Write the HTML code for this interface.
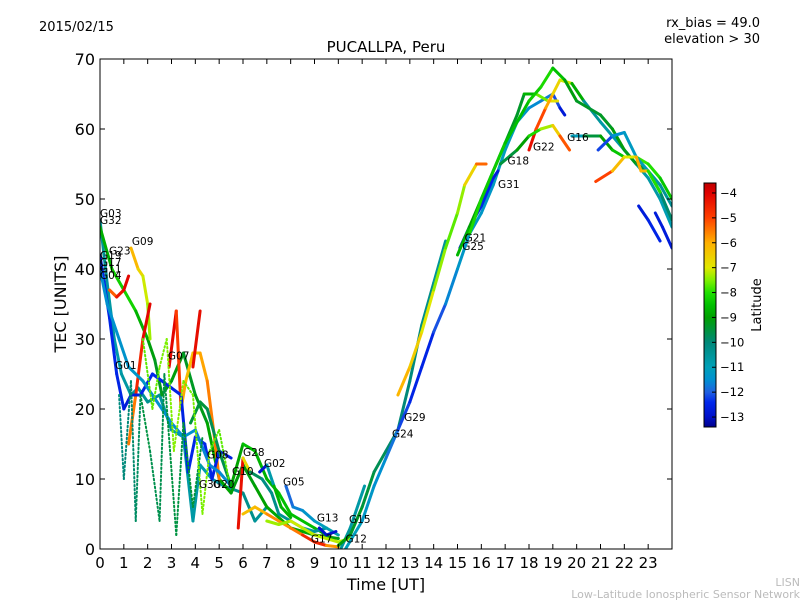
<!DOCTYPE html>
<html><head><meta charset="utf-8"><style>
body{margin:0;background:#fff;}
svg text{font-family:"DejaVu Sans","Liberation Sans",sans-serif;}
</style></head><body>
<svg id="chart" width="800" height="600" viewBox="0 0 800 600" xmlns="http://www.w3.org/2000/svg">
<defs>
<linearGradient id="jet" x1="0" y1="1" x2="0" y2="0"></linearGradient>
<clipPath id="plotclip"><rect x="100" y="59" width="572" height="490"/></clipPath>
</defs>
<text x="39" y="31" font-size="13">2015/02/15</text>
<text x="760" y="27" font-size="13" text-anchor="end">rx_bias = 49.0</text>
<text x="760" y="43" font-size="13" text-anchor="end">elevation &gt; 30</text>
<text x="386" y="52" font-size="15" text-anchor="middle">PUCALLPA, Peru</text>
<g id="marks" clip-path="url(#plotclip)"></g>
<g id="labels"></g>
<rect x="100" y="59" width="572" height="490" fill="none" stroke="#000" stroke-width="1"/>
<g id="axes"></g>
<text x="386" y="590" font-size="16" text-anchor="middle">Time [UT]</text>
<text transform="translate(66,304) rotate(-90)" font-size="16" text-anchor="middle">TEC [UNITS]</text>
<rect x="704" y="183" width="12" height="244" fill="url(#jet)" stroke="#000" stroke-width="1"/>
<g id="cbticks"></g>
<text transform="translate(761,305) rotate(-90)" font-size="13" text-anchor="middle">Latitude</text>
<text x="800" y="586" font-size="11" fill="#bbb" text-anchor="end">LISN</text>
<text x="800" y="598" font-size="11" fill="#bbb" text-anchor="end">Low-Latitude Ionospheric Sensor Network</text>
</svg>
<script>
const xTicks=[0,1,2,3,4,5,6,7,8,9,10,11,12,13,14,15,16,17,18,19,20,21,22,23];
const yTicks=[0,10,20,30,40,50,60,70];
const cbTicks=[-4,-5,-6,-7,-8,-9,-10,-11,-12,-13];
// tracks: points [hour, tec, latitude]
const trackA=[[0,47,-10.5],[0.3,38,-10.5],[0.6,30,-10.8],[0.9,25,-10.8],[1.3,22,-10.5],[1.6,23,-10.5],[2,21,-10.4],[2.5,22,-10.4],[3,17,-10.6],[3.5,16,-10.8],[3.9,4,-10.6],[4.2,12,-10.8],[4.7,10,-10.9],[5.2,9,-10.5],[6,8,-10.2],[6.5,4,-10.4],[7,6,-10.6]];
const trackB=[[0,46,-9],[0.5,40,-8.5],[1,37,-8],[1.5,34,-8.4],[2,30,-9],[2.3,27,-9.2],[2.6,22,-9.3],[3,24,-9],[3.5,28,-9.2],[4,22,-9.4],[4.5,18,-9],[5,10,-8.8],[5.5,8,-9],[6,12,-9.2],[6.5,9,-9],[7,6,-9],[8,3,-8.8],[9,2,-9],[10,1.5,-9.2]];
const trackC=[[0.4,37,-6],[0.7,36,-4.5],[1,37,-4.2],[1.2,39,-4]];
const trackG09=[[1.3,43,-6],[1.6,40,-6.3],[1.8,39,-7],[2,35,-7.2],[2.1,30,-7.5]];
const trackRed1=[[1.2,15,-6],[1.5,22,-5],[1.8,30,-4.2],[2.1,35,-4]];
const trackG07=[[2.9,26,-4.2],[3.2,34,-4],[3.4,20,-5.8],[3.6,24,-6],[3.9,28,-6.4],[4.2,28,-6.2],[4.5,24,-5.6],[4.8,16,-5.5],[5,10,-5.5]];
const trackRed2=[[3.9,26,-4.4],[4.2,34,-4]];
const trackBlue1=[[0,42,-12.5],[0.4,33,-12.5],[0.7,25,-12.4],[1,20,-12.6],[1.3,22,-12.8],[1.7,22,-12.5],[2.2,25,-12.4],[2.6,24,-12.4],[3,23,-12.5],[3.4,22,-12.6],[3.7,11,-12.5],[4,16,-12.4],[4.4,15,-12.3],[4.7,10,-12.6],[5,14,-12.4],[5.5,13,-12.8]];
const trackLB=[[0,40,-11.5],[0.3,35,-11.5],[0.8,30,-11.4],[1.2,26,-11.4],[1.8,24,-11.2],[2.2,22,-11.4],[3,18,-11.6],[3.5,16,-11.4],[4,17,-11.5],[4.6,12,-11.7],[5,11,-11.5],[5.5,9,-11.6]];
const trackDot1=[[0.8,22,-10],[1,10,-10.2],[1.3,24,-9.8],[1.5,4,-10],[1.7,22,-9.6],[2.1,14,-9.5],[2.5,4,-9.8],[2.7,25,-9.5],[3.2,2,-9.6],[3.5,18,-9.5],[3.9,6,-9.4],[4.3,16,-9.6]];
const trackDot2=[[1.8,30,-7.6],[2.2,20,-7.8],[2.5,26,-7.5],[2.8,30,-7.6],[3.1,14,-7.4],[3.5,24,-7.5],[3.9,22,-7.7],[4.3,5,-7.4],[4.6,14,-7.6],[5,17,-7.8],[5.4,10,-7.6]];
const trackG08=[[3.8,18,-9.6],[4.2,21,-9.4],[4.5,20,-9.6],[5,14,-9.8],[5.5,9,-9.5],[6,15,-8.4],[6.5,14,-8.6],[7,10,-8.8],[7.5,8,-8.6],[8,5,-8.4],[9,3,-8.6],[9.5,2,-8.8]];
const trackG28=[[5.8,3,-4.5],[6,13,-4],[6.3,11,-9.5],[6.8,10,-10],[7.2,8,-10.4],[7.5,5,-10.2],[8,4,-10.6],[8.5,3,-10.8],[9,2.5,-10.6],[9.5,3,-10.4]];
const trackG02=[[6.7,11,-13],[7,12,-12.8],[7.3,9,-8.8],[7.6,6,-8.6],[8,4.5,-8.8]];
const trackG05=[[7.8,9,-12],[8.1,6,-11.8],[8.5,5.5,-11.5],[9,4,-11.2],[9.5,3,-11],[10,2,-10.8]];
const trackG13=[[9.2,3,-13],[9.5,2,-12.8],[9.9,2.5,-13]];
const trackRed3=[[6,5,-6],[6.5,6,-6.5],[7,5,-5.8],[7.5,4,-5.5],[8,3,-6],[8.5,2,-5],[9,1,-4.2],[9.5,0.5,-5],[10,0.3,-6.5]];
const trackYel=[[7,4,-7.2],[7.5,3.5,-7.5],[8,4,-7.2],[8.5,3,-7],[9,2,-7.4],[10,1,-7],[10.5,1.5,-7.5]];
const trackG15=[[10.1,0,-10.5],[10.5,3,-10.6],[11.1,9,-10.8]];
const trackRise1=[[10,0.5,-9],[10.5,2,-9.2],[11,6,-9.4],[11.5,11,-9.6],[12,14,-9.8],[12.5,17,-10],[13,24,-10],[13.5,32,-10.2],[14,38,-10.4],[14.5,44,-10.6]];
const trackRise2=[[10.3,0,-11],[11,4,-11.2],[11.5,9,-11.4],[12,13,-11.6],[12.5,17,-12],[13,21,-12.4],[13.5,26,-12.6],[14,31,-12.4],[14.5,35,-11.8],[15,40,-11.4],[15.5,45,-11.2],[16,48,-11.4],[16.5,52,-11.2],[17,57,-11],[17.5,61,-11.2],[18,63,-11.5],[18.5,64,-11.6],[19,65,-11.8],[19.3,63,-12.5],[19.5,62,-13]];
const trackG29=[[12.5,22,-6],[13,26,-6.2],[13.5,31,-6.8],[14,37,-7.2],[14.5,43,-7.6],[15,48,-7.8],[15.3,52,-7],[15.8,55,-6.2],[16.2,55,-4.5]];
const trackG21=[[15.1,43,-13],[15.5,46,-12.6],[16,49,-12.4],[16.5,53,-12.5],[16.7,54,-12.8]];
const trackG18=[[15,42,-8.5],[15.5,46,-8.8],[16,50,-9.2],[16.5,54,-9.5],[17,58,-9.2],[17.5,62,-9.4],[17.8,65,-9.3],[18.3,65,-8],[18.8,64,-7.2],[19.2,64,-6.5]];
const trackG22=[[18,57,-4],[18.3,60,-4.5],[18.7,63,-5.6],[19,65,-6.2],[19.3,67,-7],[19.8,66.5,-7.2],[20.3,64,-10.4],[21,61,-10.6],[22,57,-10.8],[22.5,55,-10.8],[23,53,-10.6],[23.5,50,-10.8],[24,46,-11]];
const trackPeak=[[15.5,45,-8],[16,50,-8.2],[17,58,-8.4],[17.5,61,-8.6],[18,64,-8.4],[18.5,66,-8.2],[19,68.7,-8],[19.5,67,-9],[20,64,-9.2],[20.5,63,-9.4],[21,62,-9.4],[21.5,60,-9.2],[22,57,-9],[22.5,55,-9.4],[23,54,-9.6],[23.5,51,-9.8],[24,47,-10]];
const trackLow=[[16.8,55,-9.6],[17.5,57,-9.4],[18,59,-8.6],[18.5,60,-7.6],[19,60.5,-7],[19.3,59,-6],[19.7,57,-4.4]];
const trackG16=[[19.8,59,-12.5],[20.3,59,-9.6],[21,59,-9.4],[21.5,57,-8.6],[22,56,-8.2],[22.5,56,-8],[23,55,-7.8],[23.5,53,-8.2],[24,50,-8.6]];
const trackBlue2=[[20.9,57,-12.8],[21.5,59,-11.6],[22,59.5,-11.4],[22.5,56,-11],[23,54,-10.8],[23.5,52,-10.6],[24,49,-10.4]];
const trackRed4=[[20.8,52.5,-4.2],[21.5,54,-5.8],[22,56,-6.6],[22.5,56,-7.4],[22.7,54,-4.5],[23,54,-7.8],[23.5,51,-8.2]];
const trackBlue3=[[22.6,49,-12.8],[23,47,-12.6],[23.5,44,-12.4]];
const trackBlue4=[[23.3,48,-12.6],[23.6,46,-12.8],[24,43,-12.6]];
const solidTracks=[trackA,trackB,trackC,trackG09,trackRed1,trackG07,trackRed2,trackBlue1,trackLB,trackG08,trackG28,trackG02,trackG05,trackG13,trackRed3,trackYel,trackG15,trackRise1,trackRise2,trackG29,trackG21,trackG18,trackG22,trackPeak,trackLow,trackG16,trackBlue2,trackRed4,trackBlue3,trackBlue4];
const dottedTracks=[trackDot1,trackDot2];
const labelNames=["G03","G32","G09","G23","G19","G17","G11","G04","G01","G07","G08","G30","G20","G28","G10","G02","G05","G13","G17","G15","G12","G29","G24","G21","G25","G31","G18","G22","G16"];
const labelHours=[0,0,1.34,0.38,0,0,0,0,0.63,2.85,4.49,4.15,4.74,6.0,5.54,6.88,7.68,9.1,8.85,10.45,10.3,12.76,12.25,15.3,15.2,16.7,17.1,18.17,19.6];
const labelTecs=[47.4,46.4,43.4,42.1,41.4,40.4,39.5,38.6,25.7,27.1,12.9,8.7,8.7,13.3,10.6,11.7,9.1,3.9,0.9,3.7,0.9,18.3,15.9,43.9,42.7,51.6,54.9,56.9,58.3];

const NS="http://www.w3.org/2000/svg";
const X0=100,X1=672,Y0=549,Y1=59;
function xs(h){return X0+h*(X1-X0)/24;}
function ys(t){return Y0-t*(Y0-Y1)/70;}
const LMIN=-13.4,LMAX=-3.6;
const cmapStops=[[-13.4,[0,0,140]],[-13,[0,16,200]],[-12.4,[0,40,235]],[-12,[32,96,224]],[-11.5,[0,144,208]],[-11,[0,160,184]],[-10,[0,136,120]],[-9,[0,160,0]],[-8.5,[0,192,0]],[-8,[32,224,0]],[-7.5,[128,240,0]],[-7,[224,232,0]],[-6,[255,176,0]],[-5,[255,64,0]],[-4,[224,0,0]],[-3.6,[190,0,0]]];
function jet(lat){
 lat=Math.max(LMIN,Math.min(LMAX,lat));
 for(let i=0;i<cmapStops.length-1;i++){
  const a=cmapStops[i],b=cmapStops[i+1];
  if(lat<=b[0]){const f=(lat-a[0])/(b[0]-a[0]);
   const c=[0,1,2].map(k=>Math.round(a[1][k]+f*(b[1][k]-a[1][k])));
   return `rgb(${c[0]},${c[1]},${c[2]})`;}
 }
 return 'rgb(190,0,0)';
}
function el(tag,attrs,parent){const e=document.createElementNS(NS,tag);for(const k in attrs)e.setAttribute(k,attrs[k]);parent.appendChild(e);return e;}
const grad=document.getElementById('jet');
cmapStops.forEach(s=>{
 const st=el('stop',{offset:(s[0]-LMIN)/(LMAX-LMIN),'stop-color':jet(s[0])},grad);
 
 
});
const marks=document.getElementById('marks');
function drawTrack(tr,i,dotted){
 for(let j=0;j<tr.length-1;j++){
  const a=tr[j],b=tr[j+1];
  const ln=el('line',{x1:xs(a[0]),y1:ys(a[1]),x2:xs(b[0]),y2:ys(b[1]),stroke:jet((a[2]+b[2])/2),'stroke-width':dotted?2:3,'stroke-linecap':'round','stroke-dasharray':dotted?'1.5 2.5':'none'},marks);
  
  
 }
}
solidTracks.forEach((t,i)=>drawTrack(t,i,false));
dottedTracks.forEach((t,i)=>drawTrack(t,i,true));
const labG=document.getElementById('labels');
labelNames.forEach((n,i)=>{
 const t=el('text',{x:xs(labelHours[i]),y:ys(labelTecs[i]),'font-size':10.5},labG);
 t.textContent=n;
 
 
});
const ax=document.getElementById('axes');
xTicks.forEach(h=>{
 const x=xs(h);
 el('line',{x1:x,y1:Y0,x2:x,y2:Y0-5,stroke:'#000'},ax);
 el('line',{x1:x,y1:Y1,x2:x,y2:Y1+5,stroke:'#000'},ax);
 const t=el('text',{x:x,y:568,'font-size':15,'text-anchor':'middle'},ax);
 t.textContent=h;
 
 
});
yTicks.forEach(v=>{
 const y=ys(v);
 el('line',{x1:X0,y1:y,x2:X0+5,y2:y,stroke:'#000'},ax);
 el('line',{x1:X1,y1:y,x2:X1-5,y2:y,stroke:'#000'},ax);
 const t=el('text',{x:95,y:y+6,'font-size':16,'text-anchor':'end'},ax);
 t.textContent=v;
 
 
});
const cb=document.getElementById('cbticks');
cbTicks.forEach(v=>{
 const y=427-(v-LMIN)/(LMAX-LMIN)*244;
 el('line',{x1:712,y1:y,x2:716,y2:y,stroke:'#000'},cb);
 const t=el('text',{x:720,y:y+4,'font-size':11.5},cb);
 t.textContent='\u2212'+Math.abs(v);
 
 
});
</script>
</body></html>
